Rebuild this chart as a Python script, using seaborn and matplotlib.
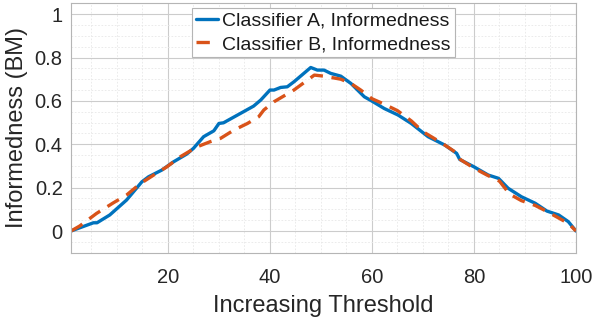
import matplotlib
matplotlib.use("Agg")
import matplotlib.pyplot as plt
from matplotlib.ticker import MultipleLocator
import seaborn as sns
import pandas as pd

# Classifier A
thr_a = [1, 4.7, 5.4, 6.1, 8.6, 11.9, 14.9, 16.2, 18.8, 21.1, 23.7, 25.0, 27.0, 29.0,
         30.0, 30.9, 34.2, 36.8, 38.2, 40.0, 40.8, 42.1, 43.4, 44.7, 48.0, 49.3, 50.6,
         51.9, 53.9, 55.9, 58.5, 60.0, 62.4, 65.1, 67.7, 71.0, 74.3, 76.6, 77.2, 80.0,
         82.8, 84.8, 86.7, 89.3, 92.0, 94.3, 96.6, 98.5, 100]
bm_a = [0, 0.032, 0.038, 0.038, 0.074, 0.143, 0.227, 0.25, 0.281, 0.319, 0.355, 0.381,
        0.435, 0.462, 0.496, 0.499, 0.542, 0.576, 0.604, 0.65, 0.65, 0.662, 0.665, 0.688,
        0.754, 0.742, 0.742, 0.727, 0.714, 0.68, 0.619, 0.599, 0.565, 0.535, 0.496, 0.435,
        0.396, 0.358, 0.33, 0.296, 0.258, 0.243, 0.197, 0.158, 0.128, 0.092, 0.074, 0.043, 0.0]

# Classifier B
thr_b = [1, 2.7, 6.0, 9.3, 11.9, 14.5, 17.2, 19.8, 22.4, 25.7, 28.3, 30.3, 32.9, 35.6,
         37.8, 38.8, 40.8, 44.7, 48.7, 50.6, 53.9, 55.9, 57.8, 60.0, 62.4, 65.0, 67.7,
         70.0, 73.6, 76.6, 77.3, 80.0, 82.8, 85.0, 87.0, 89.3, 92.0, 94.3, 96.6, 98.5, 100]
bm_b = [0, 0.023, 0.081, 0.13, 0.166, 0.217, 0.258, 0.296, 0.342, 0.388, 0.412, 0.427,
        0.465, 0.496, 0.527, 0.558, 0.596, 0.65, 0.719, 0.714, 0.70, 0.68, 0.65, 0.61,
        0.585, 0.555, 0.508, 0.458, 0.407, 0.36, 0.33, 0.29, 0.255, 0.23, 0.17, 0.14,
        0.118, 0.09, 0.06, 0.035, 0.0]

label_a = "Classifier A, Informedness"
label_b = "Classifier B, Informedness"
x_ticks = [20, 40, 60, 80, 100]
y_ticks = [0, 0.2, 0.4, 0.6, 0.8, 1]
y_tick_labels = ["0", "0.2", "0.4", "0.6", "0.8", "1"]

sns.set_style("white")
plt.rcParams["font.family"] = ["Liberation Sans", "DejaVu Sans"]

df_a = pd.DataFrame({"x": thr_a, "y": bm_a})
df_b = pd.DataFrame({"x": thr_b, "y": bm_b})

fig = plt.figure(figsize=(5.94, 3.22), dpi=100)
ax = fig.add_axes([71 / 594, 1 - 252.7 / 322, (576 - 71) / 594, (252.7 - 3.3) / 322])

sns.lineplot(data=df_a, x="x", y="y", ax=ax, color="#0072BD", linewidth=2.4,
             estimator=None, sort=False, label=label_a)
sns.lineplot(data=df_b, x="x", y="y", ax=ax, color="#D95319", linewidth=2.4,
             estimator=None, sort=False, label=label_b, dashes=False)
ax.lines[1].set_dashes((4, 2.6))

ax.set_xlim(1, 100)
ax.set_ylim(-0.1, 1.05)
ax.set_xticks(x_ticks)
ax.set_yticks(y_ticks)
ax.set_yticklabels(y_tick_labels)
ax.xaxis.set_minor_locator(MultipleLocator(5))
ax.yaxis.set_minor_locator(MultipleLocator(0.05))
ax.grid(True, which="major", color="#cccccc", linewidth=0.8)
ax.grid(True, which="minor", color="#e8e8e8", linewidth=0.6, linestyle=(0, (2, 2)))
ax.set_axisbelow(True)
ax.tick_params(which="both", length=0, labelsize=14.5, colors="#262626")
ax.tick_params(axis="x", pad=11)
ax.tick_params(axis="y", pad=6)
for s in ax.spines.values():
    s.set_color("#b5b5b5")
    s.set_linewidth(0.8)

ax.set_xlabel("Increasing Threshold", fontsize=17, color="#262626", labelpad=6)
ax.set_ylabel("Informedness (BM)", fontsize=17, color="#262626", labelpad=5)

leg = ax.legend(loc="upper center", fontsize=14, frameon=True, fancybox=False,
                framealpha=1, edgecolor="#b5b5b5", handlelength=1.15,
                handletextpad=0.2, borderpad=0.2, borderaxespad=0.25,
                labelspacing=0.3)
leg.get_frame().set_linewidth(0.8)
for t in leg.get_texts():
    t.set_color("#1a1a1a")

fig.savefig("out.png", dpi=100)
